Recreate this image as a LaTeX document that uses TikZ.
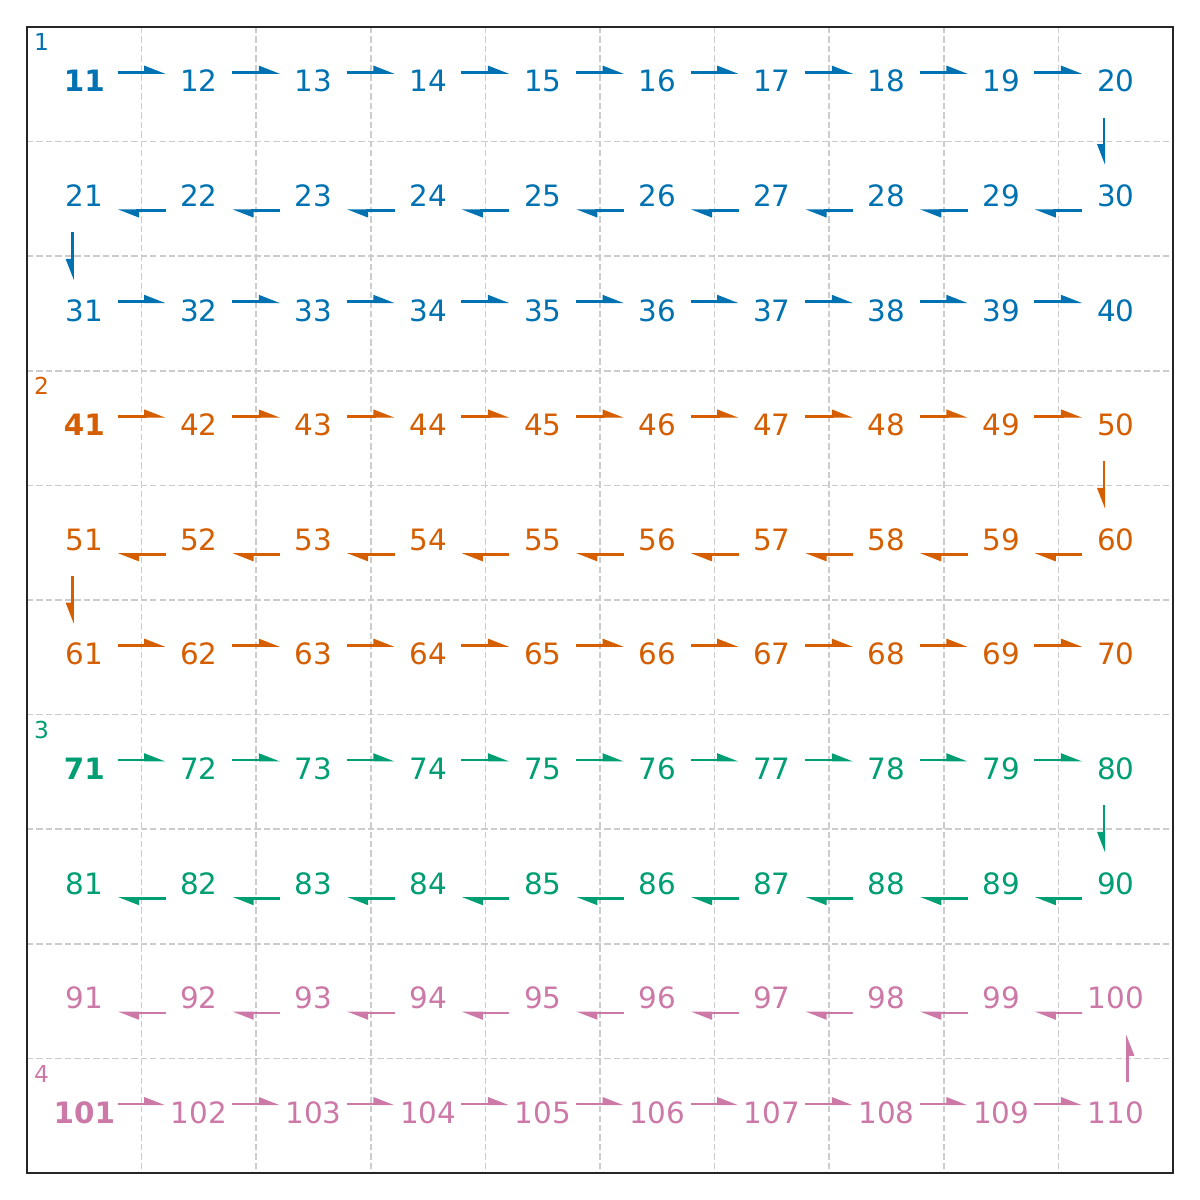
\documentclass[tikz,border=0pt]{standalone}
\usepackage{fontspec}
\setmainfont{DejaVu Sans}
\usetikzlibrary{arrows.meta}
\definecolor{cblue}{HTML}{0072B2}
\definecolor{corange}{HTML}{D55E00}
\definecolor{cgreen}{HTML}{009E73}
\definecolor{cpink}{HTML}{CC79A7}
\definecolor{gridgray}{HTML}{CCCCCC}
\definecolor{framegray}{HTML}{262626}
\begin{document}
\begin{tikzpicture}[x=2cm,y=2cm,
  num/.style={inner sep=0pt,text height=10.6pt,text depth=3.1pt,font=\fontsize{14.6}{17}\selectfont},
  wt0/.style={},
  wt1/.style={font=\fontsize{14.6}{17}\selectfont\bfseries},
  blocklabel/.style={anchor=north west,inner sep=0pt,font=\fontsize{11.6}{14}\selectfont},
  gridline/.style={gridgray,line width=0.8pt,dash pattern=on 3.2pt off 1.5pt},
  harr/.style={line width=1.3pt,-{Triangle[left,length=8.9pt,width=6.5pt]}},
  varr/.style={line width=1.3pt,-{Triangle[right,length=8.9pt,width=6.5pt]}}]
  \useasboundingbox (-0.2356,0.2356) rectangle (10.2356,-10.2356);
  % grid and frame
  \foreach \i in {1,...,9} {
    \draw[gridline] (\i,0) -- (\i,-10);
    \draw[gridline] (0,-\i) -- (10,-\i);
  }
  \draw[framegray,line width=1.25pt] (0,0) rectangle (10,-10);
  % numbers
  \foreach \r/\col/\lead in {0/cblue/1,1/cblue/0,2/cblue/0,3/corange/1,4/corange/0,
      5/corange/0,6/cgreen/1,7/cgreen/0,8/cpink/0,9/cpink/1} {
    \foreach \c in {0,...,9} {
      \pgfmathtruncatemacro\n{10*\r+\c+11}
      \pgfmathtruncatemacro\isbold{(\c==0)*\lead}
      \node[num,wt\isbold,text=\col] (n\n) at (\c+0.5,-\r-0.5) {\n};
    }
  }
  % block labels
  \node[blocklabel,text=cblue] (lab1) at (0.058,-0.054) {1};
  \node[blocklabel,text=corange] (lab2) at (0.058,-3.054) {2};
  \node[blocklabel,text=cgreen] (lab3) at (0.058,-6.054) {3};
  \node[blocklabel,text=cpink] (lab4) at (0.058,-9.054) {4};
  % rightward rows
  \foreach \r/\col in {0/cblue,2/cblue,3/corange,5/corange,6/cgreen,9/cpink} {
    \foreach \c in {0,...,8} {
      \pgfmathtruncatemacro\a{10*\r+\c+11}
      \pgfmathtruncatemacro\b{\a+1}
      \draw[harr,\col] ([shift={(0.29,0.103)}]n\a.center) -- ([shift={(-0.29,0.103)}]n\b.center);
    }
  }
  % leftward rows
  \foreach \r/\col in {1/cblue,4/corange,7/cgreen,8/cpink} {
    \foreach \c in {0,...,8} {
      \pgfmathtruncatemacro\a{10*\r+\c+11}
      \pgfmathtruncatemacro\b{\a+1}
      \draw[harr,\col] ([shift={(-0.29,-0.103)}]n\b.center) -- ([shift={(0.29,-0.103)}]n\a.center);
    }
  }
  % turns
  \foreach \s/\t/\col in {20/30/cblue,21/31/cblue,50/60/corange,51/61/corange,80/90/cgreen}
    \draw[varr,\col] ([shift={(-0.103,-0.29)}]n\s.center) -- ([shift={(-0.103,0.29)}]n\t.center);
  \draw[varr,cpink] ([shift={(0.103,0.29)}]n110.center) -- ([shift={(0.103,-0.29)}]n100.center);
\end{tikzpicture}
\end{document}
